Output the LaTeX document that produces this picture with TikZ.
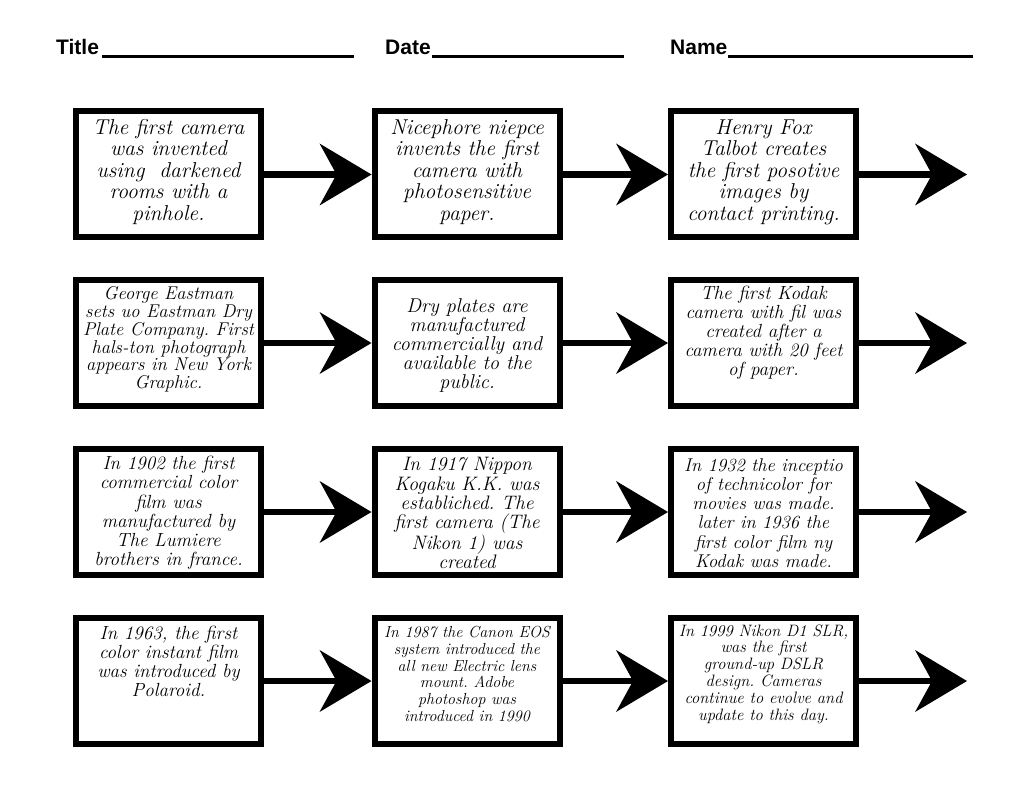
\documentclass[tikz,border=0pt]{standalone}
\usepackage{fontspec}
\newfontfamily\hdrfont{Liberation Sans}
\usetikzlibrary{arrows.meta}
\frenchspacing
\tikzset{
  box/.style={draw, line width=6pt, minimum width=185pt, minimum height=126pt, inner sep=0pt},
  txt/.style 2 args={align=center, inner sep=0pt, font=\fontsize{#1}{#2}\selectfont\itshape},
  conn/.style={line width=6.5pt, -{Stealth[length=52pt,width=62pt,inset=17pt,line width=0pt]}},
  hdr/.style={font=\hdrfont\bfseries\fontsize{21}{25}\selectfont, anchor=base west, inner sep=0pt},
  rulenode/.style={anchor=base west, inner sep=0pt},
}
\begin{document}
\begin{tikzpicture}[x=1pt,y=-1pt]
\useasboundingbox (0,0) rectangle (1024,791);
\fill[white] (0,0) rectangle (1024,791);
% header
\node[hdr] (title) at (56,55) {Title};
\node[rulenode] (titleline) at (102,55) {\rule[-3pt]{252pt}{3pt}};
\node[hdr] (date) at (385,55) {Date};
\node[rulenode] (dateline) at (432,55) {\rule[-3pt]{192pt}{3pt}};
\node[hdr] (name) at (670,55) {Name};
\node[rulenode] (nameline) at (728,55) {\rule[-3pt]{245pt}{3pt}};
% boxes
\foreach \r/\y in {1/174.5,2/343,3/512,4/681}{
  \node[box] (b\r1) at (168.5,\y) {};
  \node[box] (b\r2) at (467,\y) {};
  \node[box] (b\r3) at (763.5,\y) {};
  \coordinate (e\r) at (967,\y);
}
% texts
\node[txt={21.5}{21.5}] (t11) at (168.5,172) {The first camera\\was invented\\using \ darkened\\rooms with a\\pinhole.};
\node[txt={21.5}{21.5}] (t12) at (467,172) {Nicephore niepce\\invents the first\\camera with\\photosensitive\\paper.};
\node[txt={21.5}{21.5}] (t13) at (763.5,172) {Henry Fox\\Talbot creates\\the first posotive\\images by\\contact printing.};
\node[txt={18.5}{17.8}] (t21) at (168.5,339.5) {George Eastman\\sets uo Eastman Dry\\Plate Company. First\\hals-ton photograph\\appears in New York\\Graphic.};
\node[txt={20}{19}] (t22) at (467,345) {Dry plates are\\manufactured\\commercially and\\available to the\\public.};
\node[txt={19}{19}] (t23) at (763.5,333) {The first Kodak\\camera with fil was\\created after a\\camera with 20 feet\\of paper.};
\node[txt={19}{19.2}] (t31) at (168.5,513) {In 1902 the first\\commercial color\\film was\\manufactured by\\The Lumiere\\brothers in france.};
\node[txt={19.5}{19.2}] (t32) at (467,513) {In 1917 Nippon\\Kogaku K.K. was\\establiched. The\\first camera (The\\Nikon 1) was\\created};
\node[txt={18.5}{19.2}] (t33) at (763.5,513) {In 1932 the inceptio\\of technicolor for\\movies was made.\\later in 1936 the\\first color film ny\\Kodak was made.};
\node[txt={19}{19}] (t41) at (168.5,661.5) {In 1963, the first\\color instant film\\was introduced by\\Polaroid.};
\node[txt={16}{16.8}] (t42) at (467,674) {In 1987 the Canon EOS\\system introduced the\\all new Electric lens\\mount. Adobe\\photoshop was\\introduced in 1990};
\node[txt={16.5}{16.8}] (t43) at (763.5,674) {In 1999 Nikon D1 SLR,\\was the first\\ground-up DSLR\\design. Cameras\\continue to evolve and\\update to this day.};
% connectors
\foreach \r in {1,2,3,4}{
  \draw[conn] (b\r1.east) -- (b\r2.west);
  \draw[conn] (b\r2.east) -- (b\r3.west);
  \draw[conn] (b\r3.east) -- (e\r);
}
\end{tikzpicture}
\end{document}
